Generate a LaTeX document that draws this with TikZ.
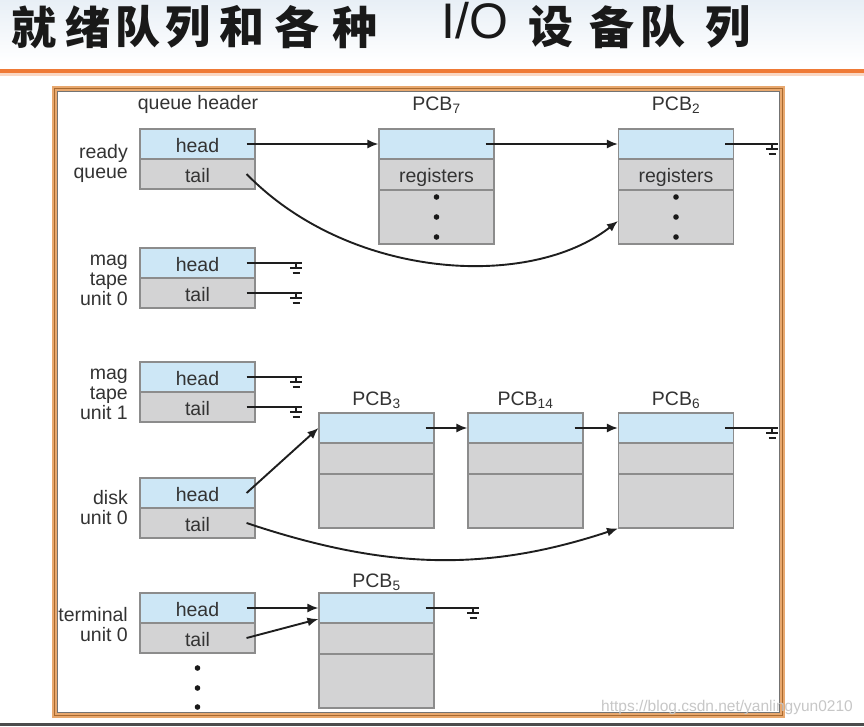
\documentclass[tikz,border=0pt]{standalone}
\usepackage{fontspec}
\setmainfont{Liberation Sans}
\newfontfamily\cjk{Noto Sans CJK SC}
\usetikzlibrary{arrows.meta}
\definecolor{rowblue}{HTML}{CDE7F6}
\definecolor{rowgray}{HTML}{D3D3D4}
\definecolor{edgegray}{HTML}{8C8C8C}
\definecolor{txt}{HTML}{333333}
\definecolor{wire}{HTML}{1E1E1E}
\definecolor{orangeline}{HTML}{EF7A36}
\definecolor{frameor}{HTML}{E8A86E}
\definecolor{framebr}{HTML}{A8692F}
\newcommand\lstrut{\rule[-4pt]{0pt}{18pt}}
\begin{document}
\begin{tikzpicture}[x=1pt,y=-1pt,
  cell/.style={draw=edgegray,line width=1.1pt,inner sep=0pt,minimum width=115pt,
    text=txt,font=\fontsize{19.5}{21}\selectfont,text height=18pt,text depth=2pt},
  bluerow/.style={cell,fill=rowblue,minimum height=30pt},
  grayrow/.style={cell,fill=rowgray,minimum height=30pt},
  midrow/.style={cell,fill=rowgray,minimum height=31pt},
  deeprow/.style={cell,fill=rowgray,minimum height=54pt},
  lbl/.style={anchor=east,align=right,inner sep=0pt,text=txt,
    font=\fontsize{19.5}{20}\selectfont},
  ttllbl/.style={anchor=base,inner sep=0pt,text=txt,font=\fontsize{19.5}{21}\selectfont},
  ttl/.style={inner sep=0pt,font=\cjk\bfseries\fontsize{45}{50}\selectfont,text=black!90},
  conn/.style={draw=wire,line width=1.9pt},
  arr/.style={conn,-{Latex[length=11pt,width=9pt]}},
  dotfill/.style={fill=black!90},
  gnd/.pic={\draw[wire,line width=1.9pt] (-6,0) -- (-6,5) (-12,5) -- (0,5) (-9.5,10) -- (-2.5,10);}
]
\useasboundingbox (0,0) rectangle (864,726);
% background and title band
\fill[white] (0,0) rectangle (864,726);
\shade[top color={rgb,255:red,232;green,239;blue,246},bottom color=white] (0,0) rectangle (864,62);
\draw[orangeline!30,line width=3pt] (0,74.5) -- (864,74.5);
\draw[orangeline,line width=4pt] (0,71) -- (864,71);
\fill[black!70] (0,723) rectangle (864,726);
% title
\foreach \c/\x in {就/34,绪/88,队/138,列/188,和/242,各/297,种/355,设/551,备/612,队/663,列/728}
  \node[ttl] (t\x) at (\x,27) {\c};
\node[inner sep=0pt,font=\fontsize{50}{52}\selectfont,text=black!90] (tio) at (475,21) {I/O};
% frame
\draw[frameor,line width=5pt] (54.5,88.5) rectangle (782.5,715.5);
\draw[framebr,line width=0.9pt] (54.5,88.5) rectangle (782.5,715.5);
\draw[black!55,line width=0.8pt] (57.5,91.5) rectangle (779.5,712.5);

% column labels
\node[ttllbl] (lqh) at (198,109) {queue header};
\node[ttllbl] (l7) at (436.5,110) {PCB\textsubscript{7}};
\node[ttllbl] (l2) at (676,110) {PCB\textsubscript{2}};
\node[ttllbl] (l3) at (376.5,405) {PCB\textsubscript{3}};
\node[ttllbl] (l14) at (525.5,405) {PCB\textsubscript{14}};
\node[ttllbl] (l6) at (676,405) {PCB\textsubscript{6}};
\node[ttllbl] (l5) at (376.5,587) {PCB\textsubscript{5}};

% row labels
\node[lbl] (lrq) at (128,163) {\lstrut ready\\\lstrut queue};
\node[lbl] (lm0) at (128,280) {\lstrut mag\\\lstrut tape\\\lstrut unit 0};
\node[lbl] (lm1) at (128,394) {\lstrut mag\\\lstrut tape\\\lstrut unit 1};
\node[lbl] (ldk) at (128,509) {\lstrut disk\\\lstrut unit 0};
\node[lbl] (ltm) at (128,626) {\lstrut terminal\\\lstrut unit 0};

% queue headers
\node[bluerow] (rqh) at (197.5,144) {head};
\node[grayrow] (rqt) at (197.5,174) {tail};
\node[bluerow] (m0h) at (197.5,263) {head};
\node[grayrow] (m0t) at (197.5,293) {tail};
\node[bluerow] (m1h) at (197.5,377) {head};
\node[grayrow] (m1t) at (197.5,407) {tail};
\node[bluerow] (dkh) at (197.5,493) {head};
\node[grayrow] (dkt) at (197.5,523) {tail};
\node[bluerow] (tmh) at (197.5,608) {head};
\node[grayrow] (tmt) at (197.5,638) {tail};
\foreach \y in {668,688,707} \fill[dotfill] (197.5,\y) circle (2.8);

% PCBs
\node[bluerow] (p7h) at (436.5,144) {};
\node[midrow] (p7r) at (436.5,174.5) {registers};
\node[deeprow] (p7d) at (436.5,217) {};
\node[bluerow] (p2h) at (676,144) {};
\node[midrow] (p2r) at (676,174.5) {registers};
\node[deeprow] (p2d) at (676,217) {};
\foreach \x in {436.5,676} \foreach \y in {197,217,237} \fill[dotfill] (\x,\y) circle (2.8);

\node[bluerow] (p3h) at (376.5,428) {};
\node[midrow] (p3m) at (376.5,458.5) {};
\node[deeprow] (p3d) at (376.5,501) {};
\node[bluerow] (p14h) at (525.5,428) {};
\node[midrow] (p14m) at (525.5,458.5) {};
\node[deeprow] (p14d) at (525.5,501) {};
\node[bluerow] (p6h) at (676,428) {};
\node[midrow] (p6m) at (676,458.5) {};
\node[deeprow] (p6d) at (676,501) {};

\node[bluerow] (p5h) at (376.5,608) {};
\node[midrow] (p5m) at (376.5,638.5) {};
\node[deeprow] (p5d) at (376.5,681) {};

% ground points
\coordinate (gm0h) at (302,263);
\coordinate (gm0t) at (302,293);
\coordinate (gm1h) at (302,377);
\coordinate (gm1t) at (302,407);
\coordinate (gp2) at (778,144);
\coordinate (gp6) at (778,428);
\coordinate (gp5) at (479,608);

% connectors
\draw[arr] ([xshift=-9pt]rqh.east) -- (p7h.west);
\draw[arr] ([xshift=-9pt]p7h.east) -- (p2h.west);
\draw[arr] ([xshift=-9pt]rqt.east) .. controls (350,280) and (530,290) .. ([yshift=-4pt]p2d.west);
\draw[conn] ([xshift=-9pt]p2h.east) -- (gp2); \pic at (gp2) {gnd};

\draw[conn] ([xshift=-9pt]m0h.east) -- (gm0h); \pic at (gm0h) {gnd};
\draw[conn] ([xshift=-9pt]m0t.east) -- (gm0t); \pic at (gm0t) {gnd};
\draw[conn] ([xshift=-9pt]m1h.east) -- (gm1h); \pic at (gm1h) {gnd};
\draw[conn] ([xshift=-9pt]m1t.east) -- (gm1t); \pic at (gm1t) {gnd};

\draw[arr] ([xshift=-9pt]dkh.east) -- (p3h.west);
\draw[arr] ([xshift=-9pt]p3h.east) -- (p14h.west);
\draw[arr] ([xshift=-9pt]p14h.east) -- (p6h.west);
\draw[conn] ([xshift=-9pt]p6h.east) -- (gp6); \pic at (gp6) {gnd};
\draw[arr] ([xshift=-9pt]dkt.east) .. controls (390,571) and (489,571) .. (p6d.south west);

\draw[arr] ([xshift=-9pt]tmh.east) -- (p5h.west);
\draw[arr] ([xshift=-9pt]tmt.east) -- ([yshift=-11pt]p5h.west);
\draw[conn] ([xshift=-9pt]p5h.east) -- (gp5); \pic at (gp5) {gnd};

% watermark
\node[anchor=east,inner sep=0pt,text=black!22,font=\fontsize{15.5}{17}\selectfont] (wm) at (853,707) {https://blog.csdn.net/yanlingyun0210};
\end{tikzpicture}
\end{document}
